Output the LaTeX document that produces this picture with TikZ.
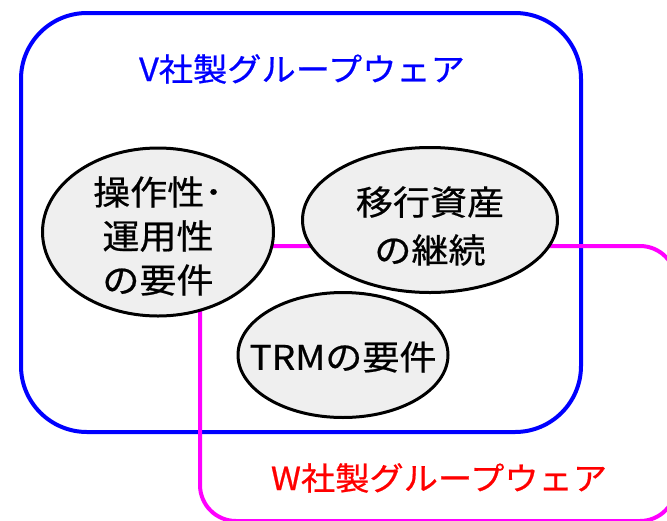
\documentclass[tikz,border=0pt]{standalone}
\usepackage{fontspec}
\setmainfont{Noto Sans CJK JP}[FakeStretch=1.07, UprightFeatures={FakeBold=0.6}]
\newfontfamily\topicfont{Noto Sans CJK JP}[FakeStretch=1.09, UprightFeatures={FakeBold=0.6}]
\usetikzlibrary{shapes.geometric}
\definecolor{vblue}{RGB}{0,0,255}
\definecolor{wmag}{RGB}{255,0,255}
\definecolor{wred}{RGB}{255,0,0}
\definecolor{topicfill}{RGB}{239,239,239}
\tikzset{
  x=1pt, y=1pt,
  vbox/.style={draw=vblue, line width=4pt, rounded corners=66pt},
  wbox/.style={draw=wmag, line width=4pt, rounded corners=36pt},
  topic/.style={ellipse, draw=black, line width=3pt, fill=topicfill, inner sep=0pt},
  topictext/.style={inner sep=0pt, align=center, font=\topicfont\fontsize{34}{44}\selectfont},
  title/.style={font=\fontsize{32}{36}\selectfont, inner sep=0pt}
}
\begin{document}
\begin{tikzpicture}
\useasboundingbox (0,0) rectangle (667,-520);
\begin{scope}
\clip (0,0) rectangle (667,-520);
\draw[vbox] (21,-13) rectangle (581,-432);
\draw[wbox] (200,-246) rectangle (676,-521);
\end{scope}
\node[title, text=vblue] (vt) at (302,-69) {V社製グループウェア};
\node[title, text=wred] (wt) at (439,-478) {W社製グループウェア};
\node[topic, minimum width=231pt, minimum height=168pt] (ops) at (158,-232) {};
\node[topic, minimum width=255pt, minimum height=145pt] (mig) at (430,-220) {};
\node[topic, minimum width=210pt, minimum height=125pt] (trm) at (343,-355) {};
\node[topictext] (opsT) at ([yshift=-4pt]ops.center) {操作性･\\運用性\\の要件};
\node[topictext, font=\topicfont\fontsize{34}{48}\selectfont] (migT) at ([yshift=-6pt]mig.center) {移行資産\\の継続};
\node[topictext] (trmT) at ([yshift=-2pt]trm.center) {TRMの要件};
\end{tikzpicture}
\end{document}
